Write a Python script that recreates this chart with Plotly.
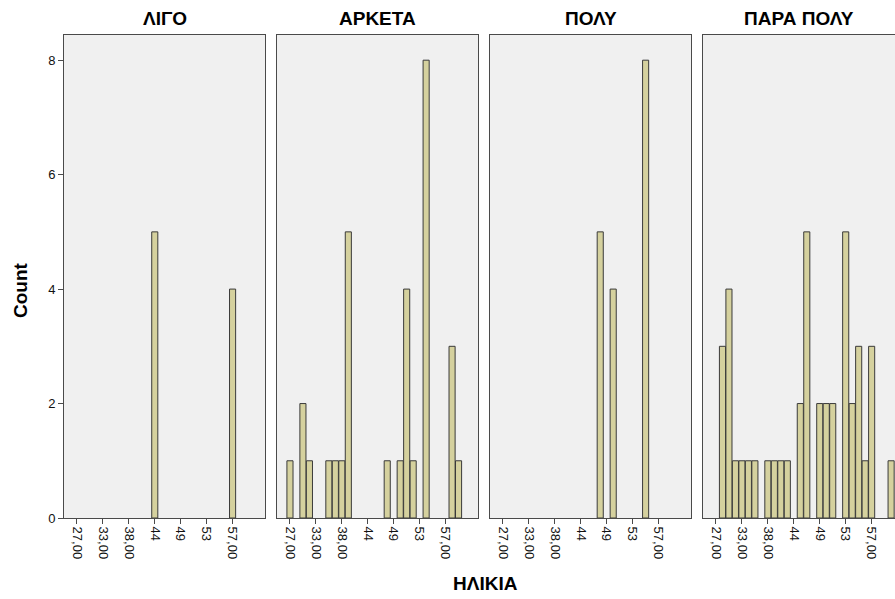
import plotly.graph_objects as go

# ---- data ----
categories = ["27", "28", "29", "31", "33", "34", "35", "36", "38", "39", "40", "42",
              "44", "45", "46", "47", "49", "50", "51", "52", "53", "54", "55", "56",
              "57", "58", "59", "60"]
tick_vals = ["27", "33", "38", "44", "49", "53", "57"]
tick_text = ["27,00", "33,00", "38,00", "44", "49", "53", "57,00"]

panel_titles = ["ΛΙΓΟ", "ΑΡΚΕΤΑ", "ΠΟΛΥ", "ΠΑΡΑ ΠΟΛΥ"]

ligo_ages = ["44", "57"]
ligo_counts = [5, 4]

arketa_ages = ["27", "29", "31", "35", "36", "38", "39", "47", "50", "51", "52", "54", "58", "59"]
arketa_counts = [1, 2, 1, 1, 1, 1, 5, 1, 1, 4, 1, 8, 3, 1]

poly_ages = ["47", "50", "55"]
poly_counts = [5, 4, 8]

parapoly_ages = ["28", "29", "31", "33", "34", "35", "38", "39", "40", "42", "45", "46",
                 "49", "50", "51", "53", "54", "55", "56", "57", "60"]
parapoly_counts = [3, 4, 1, 1, 1, 1, 1, 1, 1, 1, 2, 5, 2, 2, 2, 5, 2, 3, 1, 3, 1]

y_ticks = [0, 2, 4, 6, 8]

panels = [(ligo_ages, ligo_counts), (arketa_ages, arketa_counts),
          (poly_ages, poly_counts), (parapoly_ages, parapoly_counts)]

# ---- layout geometry ----
W, H = 895, 599
px_domains = [(64, 265), (277, 478), (490, 691), (703, 895)]
x_ranges = [[-2, 29], [-2, 29], [-2, 29], [-2, 27.6]]
y_dom = [(H - 518) / H, (H - 35) / H]

BAR_FILL = "#d5d19e"
BAR_LINE = "#3a3a3a"
AX_LINE = "#4a4a4a"
FONT = "Liberation Sans, Arial, sans-serif"

fig = go.Figure()
layout = dict(
    width=W, height=H,
    margin=dict(l=0, r=0, t=0, b=0),
    paper_bgcolor="white",
    plot_bgcolor="#f0f0f0",
    showlegend=False,
    bargap=0.06,
    font=dict(family=FONT, color="#000000", size=12),
    annotations=[],
)

for i, (ages, counts) in enumerate(panels):
    n = "" if i == 0 else str(i + 1)
    fig.add_trace(go.Bar(
        x=ages, y=counts,
        xaxis="x" + n, yaxis="y" + n,
        marker=dict(color=BAR_FILL, line=dict(color=BAR_LINE, width=1)),
        hoverinfo="x+y",
    ))
    d0, d1 = px_domains[i]
    layout["xaxis" + n] = dict(
        domain=[d0 / W, d1 / W],
        type="category",
        categoryorder="array", categoryarray=categories,
        range=x_ranges[i],
        tickmode="array", tickvals=tick_vals, ticktext=tick_text,
        tickangle=90, ticks="outside", ticklen=5, tickcolor=AX_LINE,
        tickfont=dict(size=13, color="#111111"),
        showline=True, linecolor=AX_LINE, linewidth=1, mirror=True,
        showgrid=False, zeroline=False, automargin=False,
        anchor="y" + n,
    )
    layout["yaxis" + n] = dict(
        domain=y_dom,
        range=[0, 8.44],
        tickmode="array", tickvals=y_ticks,
        ticks="outside" if i == 0 else "", ticklen=5, tickcolor=AX_LINE,
        showticklabels=(i == 0),
        tickfont=dict(size=13, color="#111111"),
        showline=True, linecolor=AX_LINE, linewidth=1, mirror=True,
        showgrid=False, zeroline=False, automargin=False,
        anchor="x" + n,
    )
    layout["annotations"].append(dict(
        text="<b>%s</b>" % panel_titles[i],
        x=((d0 + min(d1, d0 + 201)) / 2) / W, y=(H - 18.5) / H,
        xref="paper", yref="paper", showarrow=False,
        font=dict(size=19, color="#000000"),
        xanchor="center", yanchor="middle",
    ))

layout["annotations"].append(dict(
    text="<b>ΗΛΙΚΙΑ</b>", x=485 / W, y=(H - 583) / H,
    xref="paper", yref="paper", showarrow=False,
    font=dict(size=19, color="#000000"), xanchor="center", yanchor="middle",
))
layout["annotations"].append(dict(
    text="<b>Count</b>", x=21 / W, y=(H - 290) / H,
    xref="paper", yref="paper", showarrow=False, textangle=-90,
    font=dict(size=19, color="#000000"), xanchor="center", yanchor="middle",
))

fig.update_layout(**layout)
fig.write_html(
    "out.html",
    config={"displayModeBar": False},
    post_script="document.body.style.margin='0';document.body.style.overflow='hidden';",
)
